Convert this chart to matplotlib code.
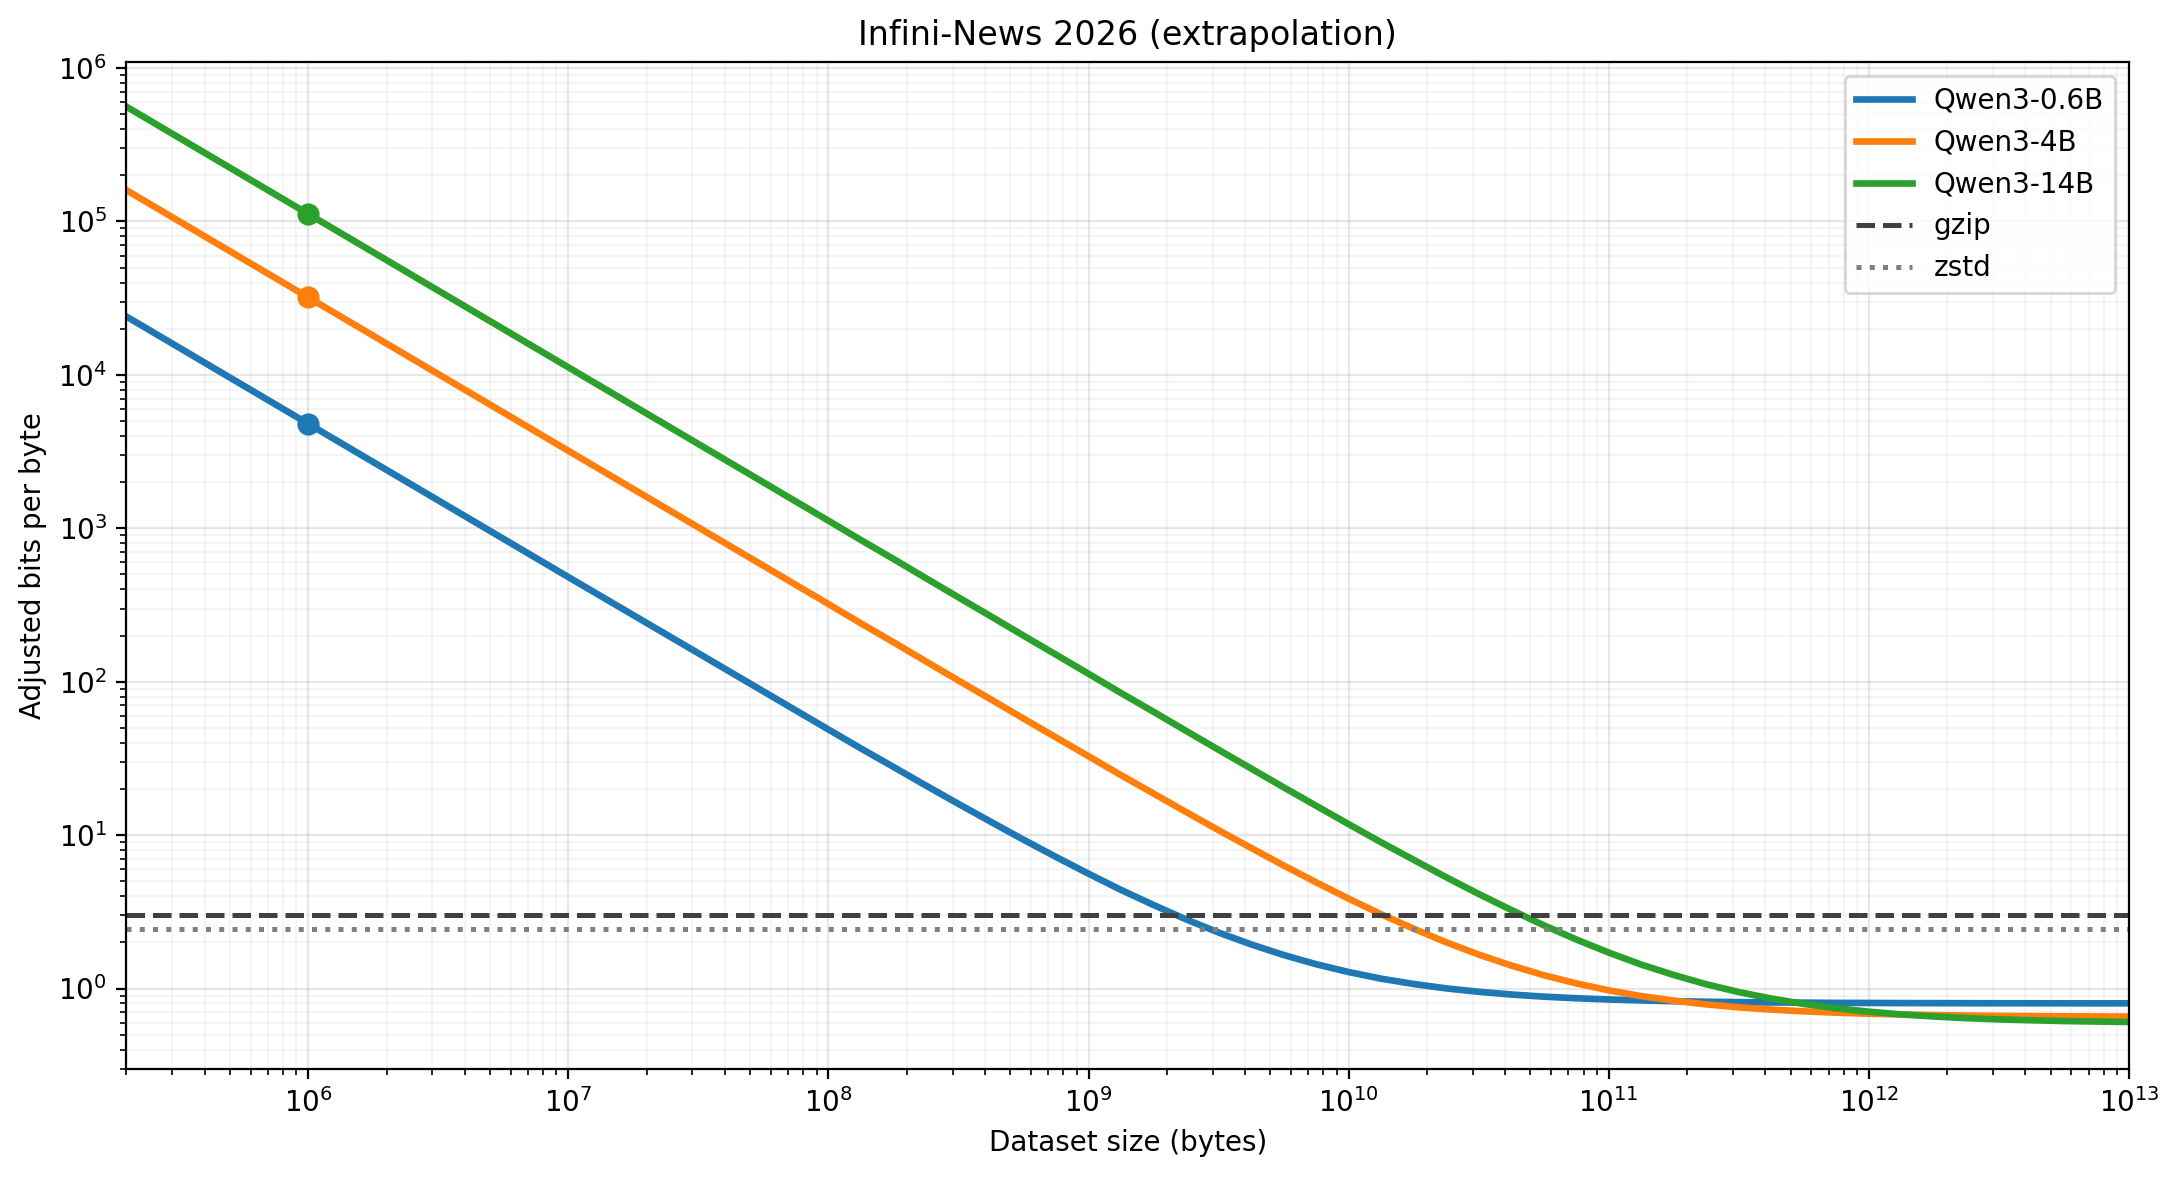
import numpy as np
import matplotlib
matplotlib.use('Agg')
import matplotlib.pyplot as plt

# dataset size in bytes (x axis), denser where the curves bend
dataset_bytes = [2e5, 1e6, 1e7,
                 1e8, 1.33e8, 1.78e8, 2.37e8, 3.16e8, 4.22e8, 5.62e8, 7.5e8,
                 1e9, 1.33e9, 1.78e9, 2.37e9, 3.16e9, 4.22e9, 5.62e9, 7.5e9,
                 1e10, 1.33e10, 1.78e10, 2.37e10, 3.16e10, 4.22e10, 5.62e10, 7.5e10,
                 1e11, 1.33e11, 1.78e11, 2.37e11, 3.16e11, 4.22e11, 5.62e11, 7.5e11,
                 1e12, 1.33e12, 1.78e12, 2.37e12, 3.16e12, 4.22e12, 5.62e12, 7.5e12,
                 1e13]

# adjusted bits per byte
qwen_06b = [24000, 4801, 480.8,
            48.8, 36.8, 27.79, 21.04, 15.98, 12.18, 9.335, 7.203,
            5.6, 4.4, 3.499, 2.824, 2.318, 1.938, 1.654, 1.440,
            1.28, 1.16, 1.070, 1.002, 0.952, 0.914, 0.885, 0.864,
            0.848, 0.836, 0.827, 0.820, 0.815, 0.811, 0.809, 0.806,
            0.805, 0.8036, 0.8027, 0.802, 0.8015, 0.8011, 0.8009, 0.8006,
            0.8005]
qwen_4b = [160000, 32000, 3200.7,
           320.7, 240.7, 180.6, 135.6, 101.8, 76.52, 57.55, 43.34,
           32.65, 24.65, 18.64, 14.15, 10.77, 8.24, 6.343, 4.922,
           3.853, 3.053, 2.452, 2.002, 1.665, 1.412, 1.222, 1.080,
           0.973, 0.893, 0.833, 0.788, 0.754, 0.729, 0.710, 0.696,
           0.685, 0.677, 0.671, 0.6665, 0.663, 0.6606, 0.6587, 0.6573,
           0.6562]
qwen_14b = [560000, 112000, 11200,
            1120.6, 840.5, 630.4, 472.9, 354.8, 266.2, 199.7, 150.0,
            112.6, 84.58, 63.57, 47.82, 36.0, 27.15, 20.5, 15.53,
            11.79, 8.993, 6.892, 5.317, 4.135, 3.250, 2.585, 2.088,
            1.714, 1.434, 1.224, 1.066, 0.948, 0.860, 0.793, 0.743,
            0.706, 0.678, 0.657, 0.641, 0.629, 0.621, 0.614, 0.609,
            0.6052]

model_names = ['Qwen3-0.6B', 'Qwen3-4B', 'Qwen3-14B']

# measured points (at 1 MB)
measured_x = 1e6
measured_bpb = [4.8e3, 3.2e4, 1.12e5]

# baseline compressors
gzip_bpb = 3.0
zstd_bpb = 2.45

colors = ['#1f77b4', '#ff7f0e', '#2ca02c']

fig, ax = plt.subplots(figsize=(10.9, 5.9), dpi=200)
fig.subplots_adjust(left=0.058, right=0.9766, top=0.9477, bottom=0.0943)

for name, series, c, m in zip(model_names, [qwen_06b, qwen_4b, qwen_14b], colors, measured_bpb):
    ax.plot(dataset_bytes, series, color=c, linewidth=2.4, label=name)
    ax.plot([measured_x], [m], 'o', color=c, markersize=7)

ax.axhline(gzip_bpb, color='#404040', linestyle='--', linewidth=1.8, label='gzip')
ax.axhline(zstd_bpb, color='#808080', linestyle=':', linewidth=1.8, label='zstd')

ax.set_xscale('log')
ax.set_yscale('log')
ax.set_xlim(2e5, 1e13)
ax.set_ylim(0.3, 1.1e6)

ax.grid(True, which='major', alpha=0.3)
ax.grid(True, which='minor', alpha=0.12)

ax.set_xlabel('Dataset size (bytes)')
ax.set_ylabel('Adjusted bits per byte')
ax.set_title('Infini-News 2026 (extrapolation)')
ax.legend(loc='upper right')

plt.savefig('out.png', dpi=200)
plt.close()
